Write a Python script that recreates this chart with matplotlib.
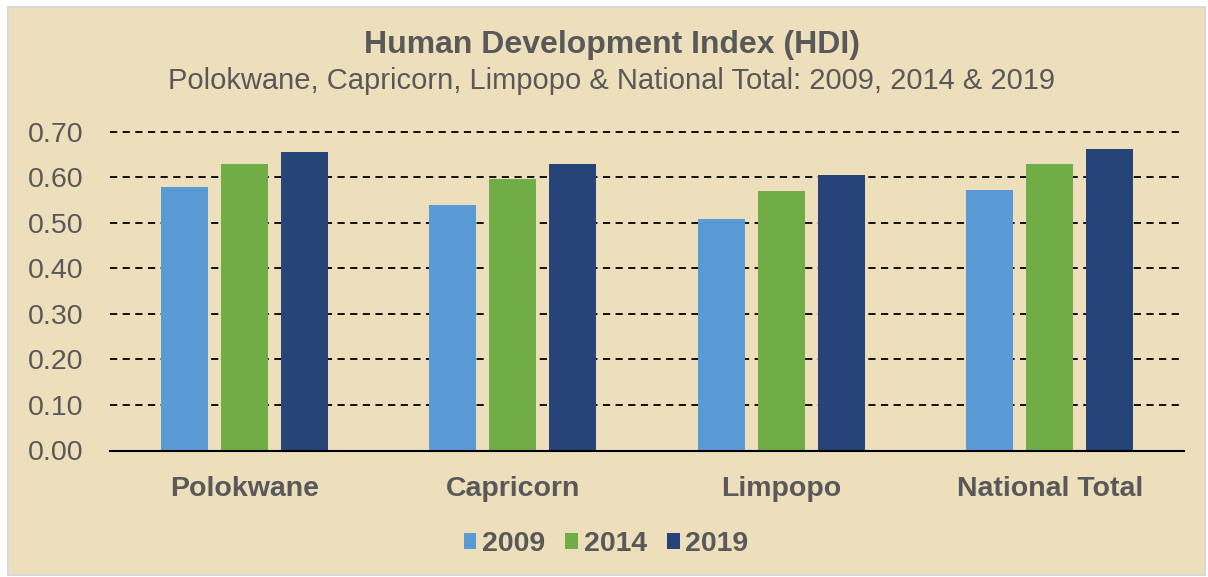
import matplotlib.pyplot as plt
from matplotlib.patches import Rectangle
import numpy as np

plt.rcParams['font.family'] = ['Liberation Sans', 'DejaVu Sans']

regions = ['Polokwane', 'Capricorn', 'Limpopo', 'National Total']
years = ['2009', '2014', '2019']
hdi_2009 = [0.578, 0.538, 0.508, 0.573]
hdi_2014 = [0.629, 0.597, 0.570, 0.630]
hdi_2019 = [0.656, 0.629, 0.605, 0.662]
colors = ['#5B9BD5', '#70AD47', '#264478']
txt = '#595959'

W, H = 1208, 577
fig = plt.figure(figsize=(W / 100, H / 100), dpi=100)
fig.patch.set_facecolor('white')

# parchment-ish panel with light gray frame
fig.patches.append(Rectangle((8 / W, 2 / H), 1197 / W, 568 / H, transform=fig.transFigure,
                             facecolor='#EEDFBC', edgecolor='#D9D9D9', linewidth=1.5, zorder=-10))

ax = fig.add_axes([110 / W, (H - 450.5) / H, 1074 / W, (450.5 - 131.7) / H])
ax.set_facecolor('none')

x = np.arange(len(regions))
w = 0.175
step = 0.2235
for i, (vals, yr) in enumerate(zip([hdi_2009, hdi_2014, hdi_2019], years)):
    ax.bar(x + (i - 1) * step, vals, width=w, color=colors[i], label=yr, zorder=3)

ax.set_xlim(-0.5, len(regions) - 0.5)
ax.set_ylim(0, 0.70)
ax.set_yticks(np.arange(0, 0.71, 0.1))
ax.set_yticklabels([f'{v:.2f}' for v in np.arange(0, 0.71, 0.1)])
ax.yaxis.grid(True, color='black', linestyle=(0, (4, 3)), linewidth=1.3, zorder=1)
ax.set_axisbelow(True)
for gl in ax.get_ygridlines():
    gl.set_clip_on(False)

for s in ['top', 'right', 'left']:
    ax.spines[s].set_visible(False)
ax.spines['bottom'].set_color('black')
ax.spines['bottom'].set_linewidth(1.5)
ax.spines['bottom'].set_zorder(4)

ax.set_xticks(x)
ax.set_xticklabels(regions, fontsize=20.5, fontweight='bold', color=txt)
ax.tick_params(axis='x', length=0, pad=18)
ax.tick_params(axis='y', length=0, pad=19, labelsize=20.5, labelcolor=txt)

fig.text(612 / W, 1 - 45 / H, 'Human Development Index (HDI)', ha='center', va='center',
         fontsize=23, fontweight='bold', color=txt)
fig.text(612 / W, 1 - 81 / H, 'Polokwane, Capricorn, Limpopo & National Total: 2009, 2014 & 2019',
         ha='center', va='center', fontsize=21, color=txt)

fig.legend(loc='center', bbox_to_anchor=(606 / W, 1 - 544 / H), ncol=3, frameon=False,
           prop={'size': 20.5, 'weight': 'bold'}, labelcolor=txt,
           handlelength=0.45, handleheight=0.45, handletextpad=0.2, columnspacing=0.7)

fig.savefig('out.png', dpi=100, facecolor=fig.get_facecolor())
